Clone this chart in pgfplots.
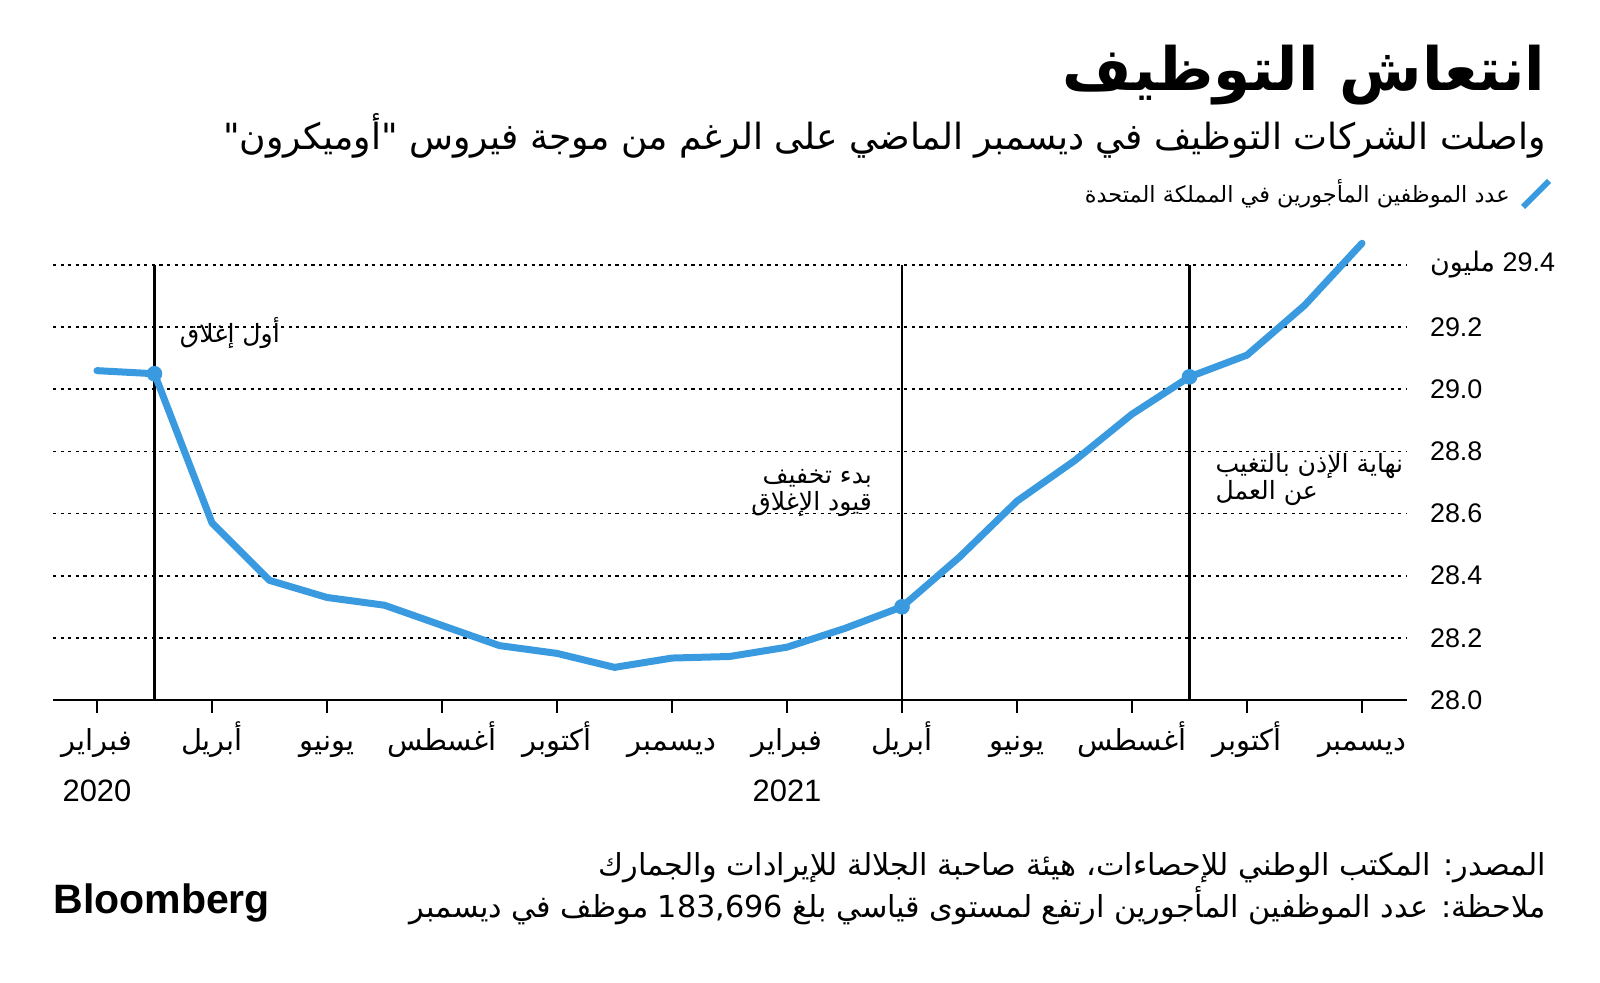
\documentclass[border=0pt]{standalone}
\usepackage{fontspec}
\usepackage{pgfplots}
\pgfplotsset{compat=1.18}
\setmainfont{Liberation Sans}
\newfontfamily\arabicfont[Script=Arabic]{DejaVu Sans}
\TeXXeTstate=1
\newcommand\AR[1]{{\arabicfont\beginR #1\endR}}
\definecolor{bblue}{HTML}{3A9AE0}
\begin{document}
\begin{tikzpicture}
\useasboundingbox (0bp,0bp) rectangle (800bp,491.5bp);
\begin{axis}[
  at={(26.5bp,141.5bp)}, anchor=south west,
  scale only axis, width=676.5bp, height=217.5bp,
  xmin=-0.765, xmax=22.765, ymin=28, ymax=29.4,
  clip=false,
  axis x line=bottom, axis y line=right,
  x axis line style={-, line width=1.2bp},
  y axis line style={draw=none},
  xtick={0,2,4,6,8,10,12,14,16,18,20,22},
  xticklabels={\AR{فبراير},\AR{أبريل},\AR{يونيو},\AR{أغسطس},\AR{أكتوبر},\AR{ديسمبر},\AR{فبراير},\AR{أبريل},\AR{يونيو},\AR{أغسطس},\AR{أكتوبر},\AR{ديسمبر}},
  xticklabel style={anchor=north, font=\fontsize{14.5}{16}\selectfont, text height=12bp, text depth=4bp, yshift=-3bp},
  ytick={28.0,28.2,28.4,28.6,28.8,29.0,29.2,29.4},
  yticklabels={28.0,28.2,28.4,28.6,28.8,29.0,29.2,{\AR{مليون} 29.4}},
  yticklabel style={anchor=west, font=\fontsize{13.5}{15}\selectfont, xshift=2bp},
  tick align=outside, major tick length=6.5bp,
  xtick style={black, line width=1bp},
  ytick style={draw=none},
  ymajorgrids, grid style={black, line width=0.8bp, dash pattern=on 1.6bp off 2.2bp},
]
\draw[black, line width=1.1bp] (axis cs:1,28) -- (axis cs:1,29.4);
\draw[black, line width=1.1bp] (axis cs:14,28) -- (axis cs:14,29.4);
\draw[black, line width=1.1bp] (axis cs:19,28) -- (axis cs:19,29.4);
\addplot[bblue, line width=3.5bp, line join=round, line cap=round, mark=none] coordinates {
(0,29.06) (1,29.05) (2,28.57) (3,28.385) (4,28.33) (5,28.305) (6,28.24) (7,28.175)
(8,28.15) (9,28.105) (10,28.135) (11,28.14) (12,28.17) (13,28.23) (14,28.30)
(15,28.46) (16,28.64) (17,28.77) (18,28.92) (19,29.04) (20,29.11) (21,29.27) (22,29.47)};
\addplot[only marks, mark=*, mark size=3.7bp, bblue] coordinates {(1,29.05) (14,28.30) (19,29.04)};
\node[anchor=west, font=\fontsize{12.6}{14}\selectfont] at (axis cs:1.32,29.18) {\AR{أول إغلاق}};
\node[anchor=east, align=right, font=\fontsize{12.6}{13.5}\selectfont] at (axis cs:13.6,28.665) {\AR{بدء تخفيف}\\\AR{قيود الإغلاق}};
\node[anchor=west, align=left, font=\fontsize{12.6}{13.5}\selectfont] at (axis cs:19.33,28.71) {\AR{نهاية الإذن بالتغيب}\\\AR{عن العمل}};
\node[font=\fontsize{15.5}{17}\selectfont] at (axis cs:0,28) [yshift=-45.5bp] {2020};
\node[font=\fontsize{15.5}{17}\selectfont] at (axis cs:12,28) [yshift=-45.5bp] {2021};
\end{axis}
\begin{scope}[x=1bp,y=1bp]
\node[anchor=east, inner sep=0pt, font=\bfseries\fontsize{30}{34}\selectfont] at (773,454) {\AR{انتعاش التوظيف}};
\node[anchor=east, inner sep=0pt, font=\fontsize{18.1}{21}\selectfont] at (773,423.5) {\AR{واصلت الشركات التوظيف في ديسمبر الماضي على الرغم من موجة فيروس "أوميكرون"}};
\draw[bblue, line width=3bp] (761.5,388) -- (774.5,401);
\node[anchor=east, inner sep=0pt, font=\fontsize{11.25}{13}\selectfont] at (755,394.5) {\AR{عدد الموظفين المأجورين في المملكة المتحدة}};
\node[anchor=east, inner sep=0pt, font=\fontsize{15.2}{17}\selectfont] at (773,57.5) {\AR{المصدر: المكتب الوطني للإحصاءات، هيئة صاحبة الجلالة للإيرادات والجمارك}};
\node[anchor=east, inner sep=0pt, font=\fontsize{15.2}{17}\selectfont] at (773,38.5) {\AR{ملاحظة: عدد الموظفين المأجورين ارتفع لمستوى قياسي بلغ \beginL 183,696\endL{} موظف في ديسمبر}};
\node[anchor=west, font=\bfseries\fontsize{20.6}{22}\selectfont, inner sep=0pt] at (26.5,40) {Bloomberg};
\end{scope}
\end{tikzpicture}
\end{document}
